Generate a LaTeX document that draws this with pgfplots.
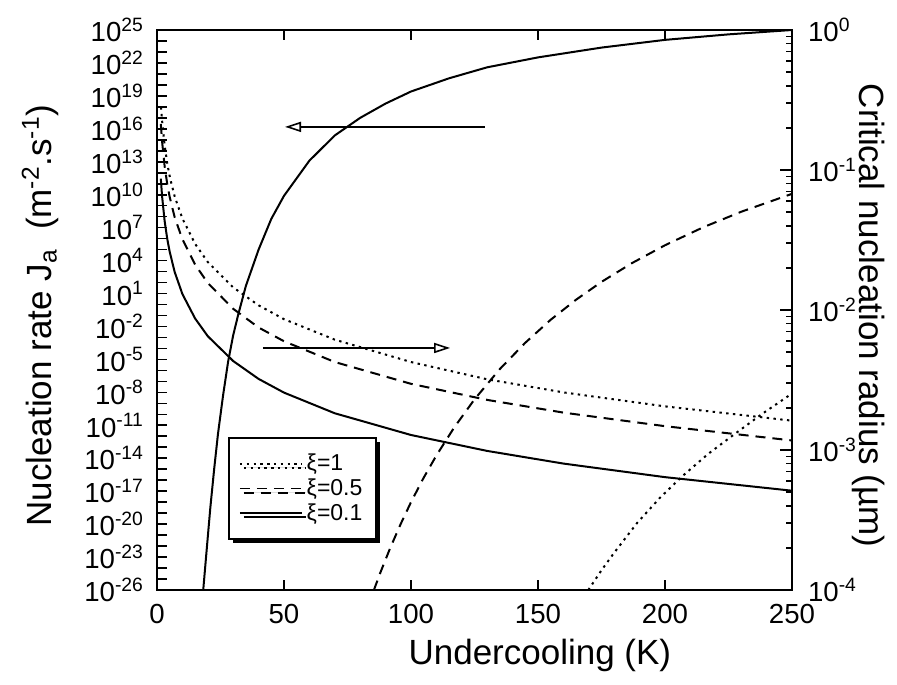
\documentclass[border=0pt]{standalone}
\usepackage{fontspec}
\setmainfont{Liberation Sans}
\usepackage{pgfplots}
\pgfplotsset{compat=1.18}
\usetikzlibrary{arrows.meta,shadows}

\pgfplotstableread{
x y
18.2 1e-26
19.5 3.2e-23
21 3.2e-19
22.5 1e-15
24 1.6e-12
26 5e-9
28 6.3e-6
30 1.6e-3
32 0.126
35 50
40 1e5
45 6.3e7
50 7.9e9
60 1.26e13
70 2.5e15
80 1e17
90 2e18
100 2.5e19
115 4e20
130 4e21
150 3.2e22
175 2.5e23
200 1.26e24
225 4e24
250 1e25
}\Jsolid

\pgfplotstableread{
x y
85.4 1e-26
88 4.2e-25
92 8.5e-23
96 1.1e-20
100 1e-18
105 1.7e-16
110 1.8e-14
117 6.3e-12
125 2.3e-9
135 1.35e-6
145 3.3e-4
155 0.041
165 2.75
175 115
187 5900
200 2.5e5
215 1.07e7
230 2.8e8
250 1.2e10
}\Jdashed

\pgfplotstableread{
x y
169.8 1e-26
175 6.3e-25
180 2.5e-23
189 1.26e-20
198 2.5e-18
207 2.5e-16
217 2.5e-14
228 2e-12
238 1e-10
250 7.9e-9
}\Jdotted

\pgfplotstableread{
x y
1.5 0.0867
2 0.065
3 0.0433
4 0.0325
5 0.026
7 0.0186
10 0.013
15 0.0087
20 0.0065
30 0.00432
40 0.00322
50 0.00257
70 0.00183
100 0.00128
130 0.000985
160 0.0008
200 0.00064
250 0.000512
}\Rsolid

\pgfplotstableread{
x y
1.5 0.2133
2 0.16
3 0.1067
4 0.08
5 0.064
7 0.0457
10 0.032
15 0.0211
20 0.0156
30 0.0102
40 0.0075
50 0.00598
70 0.00425
100 0.00297
130 0.00228
160 0.00185
200 0.00148
250 0.00117
}\Rdashed

\pgfplotstableread{
x y
1.6 0.281
2 0.225
3 0.15
4 0.1125
5 0.09
7 0.0643
10 0.045
15 0.0297
20 0.022
30 0.0145
40 0.0108
50 0.0086
70 0.00614
100 0.00425
130 0.0032
160 0.00258
200 0.00205
250 0.00162
}\Rdotted

\begin{document}
\begin{tikzpicture}
\useasboundingbox (-78.5pt,-47pt) rectangle (370pt,295pt);
\begin{axis}[
  at={(0,0)}, anchor=south west,
  scale only axis, width=317.5pt, height=280pt,
  xmin=0, xmax=250, ymode=log, ymin=1e-26, ymax=1e25,
  xtick={0,50,100,150,200,250},
  xtick pos=both, xticklabel pos=bottom,
  ytick pos=left,
  ytick={1e-26,1e-23,1e-20,1e-17,1e-14,1e-11,1e-8,1e-5,1e-2,1e1,1e4,1e7,1e10,1e13,1e16,1e19,1e22,1e25},
  yticklabels={10\textsuperscript{-26},10\textsuperscript{-23},10\textsuperscript{-20},10\textsuperscript{-17},10\textsuperscript{-14},10\textsuperscript{-11},10\textsuperscript{-8},10\textsuperscript{-5},10\textsuperscript{-2},10\textsuperscript{1},10\textsuperscript{4},10\textsuperscript{7},10\textsuperscript{10},10\textsuperscript{13},10\textsuperscript{16},10\textsuperscript{19},10\textsuperscript{22},10\textsuperscript{25}},
  minor ytick={1e-25,1e-24,1e-22,1e-21,1e-19,1e-18,1e-16,1e-15,1e-13,1e-12,1e-10,1e-9,1e-7,1e-6,1e-4,1e-3,1e-1,1,1e2,1e3,1e5,1e6,1e8,1e9,1e11,1e12,1e14,1e15,1e17,1e18,1e20,1e21,1e23,1e24},
  tick align=inside,
  major tick length=5pt, minor tick length=5pt,
  every tick/.style={black, line width=0.8pt},
  axis line style={line width=1pt},
  /pgf/number format/assume math mode=true,
  tick label style={font=\fontsize{13.8}{15}\selectfont},
  yticklabel style={xshift=-3pt},
  xticklabel style={yshift=-3.5pt},
  xlabel={Undercooling (K)},
  ylabel={Nucleation rate J\textsubscript{a}\ \ (m\textsuperscript{-2}.s\textsuperscript{-1})},
  label style={font=\fontsize{17.5}{19}\selectfont},
  xlabel style={at={(axis description cs:0.603,-0.116)}, anchor=center},
  ylabel style={at={(axis description cs:-0.184,0.49)}, anchor=center, rotate=0},
  legend style={at={(axis description cs:0.112,0.273)}, anchor=north west,
    draw=black, line width=1pt, fill=white,
    font=\fontsize{11.5}{12.5}\selectfont,
    drop shadow={shadow xshift=2pt, shadow yshift=-2pt, opacity=1, fill=black},
    inner xsep=5pt, inner ysep=6pt, row sep=-1.5pt},
  legend cell align=left,
  legend image code/.code={\draw[#1, line width=0.8pt] (0pt,0pt) -- (31pt,0pt);},
]
\addplot[black, line width=1pt, dash pattern=on 1.2pt off 2.2pt] table {\Jdotted};
\addlegendentry{ξ=1}
\addplot[black, line width=1pt, dash pattern=on 5pt off 3.5pt] table {\Jdashed};
\addlegendentry{ξ=0.5}
\addplot[black, line width=1pt] table {\Jsolid};
\addlegendentry{ξ=0.1}
\draw[line width=0.8pt, -{Triangle[open, length=8pt, width=5pt]}] (axis cs:129,1.5e16) -- (axis cs:50.4,1.5e16);
\draw[line width=0.8pt, -{Triangle[open, length=8pt, width=5pt]}] (axis cs:41.7,1.1e-4) -- (axis cs:115.4,1.1e-4);
\end{axis}
\begin{axis}[
  at={(0,0)}, anchor=south west,
  scale only axis, width=317.5pt, height=280pt,
  xmin=0, xmax=250, ymode=log, ymin=1e-4, ymax=1,
  axis x line=none, axis y line*=right,
  ytick={1e-4,1e-3,1e-2,1e-1,1},
  yticklabels={10\textsuperscript{-4},10\textsuperscript{-3},10\textsuperscript{-2},10\textsuperscript{-1},10\textsuperscript{0}},
  minor ytick={},
  tick align=inside,
  major tick length=6pt,
  every tick/.style={black, line width=0.8pt},
  axis line style={line width=1pt},
  tick label style={font=\fontsize{13.8}{15}\selectfont},
  yticklabel style={xshift=4.5pt},
  ylabel={Critical nucleation radius (µm)},
  label style={font=\fontsize{17.5}{19}\selectfont},
  ylabel style={at={(axis description cs:1.12,0.49)}, anchor=center, rotate=180},
]
\addplot[black, line width=1pt, dash pattern=on 1.2pt off 2.2pt] table {\Rdotted};
\addplot[black, line width=1pt, dash pattern=on 5pt off 3.5pt] table {\Rdashed};
\addplot[black, line width=1pt] table {\Rsolid};
\end{axis}
\end{tikzpicture}
\end{document}
